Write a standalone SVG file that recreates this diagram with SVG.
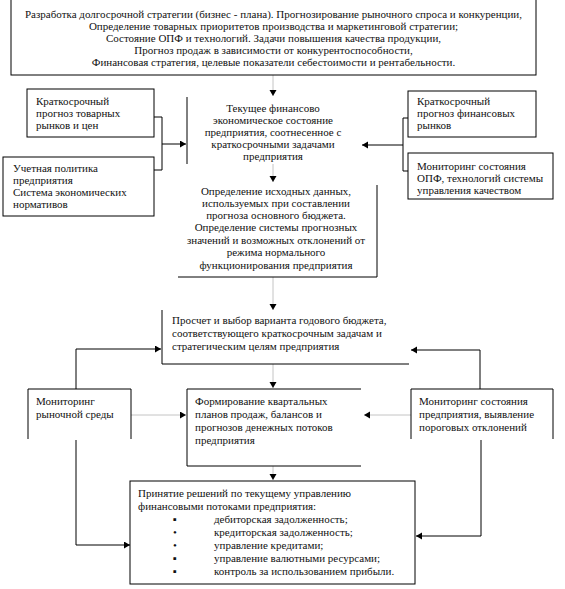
<svg xmlns="http://www.w3.org/2000/svg" width="565" height="589" viewBox="0 0 565 589">
<style>
text{font-family:"Liberation Serif","Times New Roman",serif;font-size:11px;fill:#111}
.c{text-anchor:middle}
.b{fill:none;stroke:#000;stroke-width:1}
.k{fill:none;stroke:#000;stroke-width:1}
.g{fill:none;stroke:#c4c4c4;stroke-width:1}
</style>
<defs>
<marker id="ah" markerUnits="userSpaceOnUse" markerWidth="8" markerHeight="8" refX="6" refY="3.5" orient="auto">
<path d="M0,0 L6,3.5 L0,7 Z" fill="#000"/>
</marker>
</defs>
<rect width="565" height="589" fill="#fff"/>
<g id="connectors">
<line class="g" x1="273" y1="75" x2="273" y2="96" marker-end="url(#ah)"/>
<polyline class="k" points="154,117 162,117 162,170 154,170"/>
<line class="k" x1="162" y1="144" x2="186" y2="144" marker-end="url(#ah)"/>
<polyline class="k" points="408,118 403,118 403,171 408,171"/>
<line class="k" x1="403" y1="145" x2="362" y2="145" marker-end="url(#ah)"/>
<line class="g" x1="273" y1="164" x2="273" y2="182" marker-end="url(#ah)"/>
<line class="g" x1="273" y1="277" x2="273" y2="310" marker-end="url(#ah)"/>
<polyline class="k" points="76,389 76,349 161,349" marker-end="url(#ah)"/>
<polyline class="k" points="480,389 480,350 411,350" marker-end="url(#ah)"/>
<line class="g" x1="273" y1="364" x2="273" y2="388" marker-end="url(#ah)"/>
<line class="g" x1="131" y1="415" x2="186" y2="415" marker-end="url(#ah)"/>
<line class="g" x1="411" y1="415" x2="364" y2="415" marker-end="url(#ah)"/>
<line class="g" x1="273" y1="466" x2="273" y2="480" marker-end="url(#ah)"/>
<polyline class="k" points="76,440 76,545 130,545" marker-end="url(#ah)"/>
<polyline class="k" points="481,440 481,536 416,536" marker-end="url(#ah)"/>
</g>
<g id="strategy">
<rect class="b" x="11" y="-2" width="525" height="77"/>
<text class="c" x="273.5" y="18">Разработка долгосрочной стратегии (бизнес - плана). Прогнозирование рыночного спроса и конкуренции,</text>
<text class="c" x="273.5" y="30">Определение товарных приоритетов производства и маркетинговой стратегии;</text>
<text class="c" x="273.5" y="42">Состояние ОПФ и технологий. Задачи повышения качества продукции,</text>
<text class="c" x="273.5" y="54">Прогноз продаж в зависимости от конкурентоспособности,</text>
<text class="c" x="273.5" y="66">Финансовая стратегия, целевые показатели себестоимости и рентабельности.</text>
</g>
<g id="market-forecast">
<rect class="b" x="27" y="89" width="127" height="48"/>
<text x="36" y="105">Краткосрочный</text>
<text x="36" y="117">прогноз товарных</text>
<text x="36" y="129">рынков и цен</text>
</g>
<g id="accounting">
<rect class="b" x="3" y="157" width="151" height="59"/>
<text x="13" y="172">Учетная политика</text>
<text x="13" y="184">предприятия</text>
<text x="13" y="196">Система экономических</text>
<text x="13" y="208">нормативов</text>
</g>
<g id="current-state">
<line class="b" x1="187" y1="97" x2="187" y2="164"/>
<text class="c" x="273" y="112">Текущее финансово</text>
<text class="c" x="273" y="124">экономическое состояние</text>
<text class="c" x="273" y="136">предприятия, соотнесенное с</text>
<text class="c" x="273" y="148">краткосрочными задачами</text>
<text class="c" x="273" y="160">предприятия</text>
</g>
<g id="fin-forecast">
<rect class="b" x="408" y="91" width="128" height="46"/>
<text x="417" y="105">Краткосрочный</text>
<text x="417" y="117">прогноз финансовых</text>
<text x="417" y="129">рынков</text>
</g>
<g id="opf-monitoring">
<rect class="b" x="408" y="153" width="145" height="46"/>
<text x="417" y="170">Мониторинг состояния</text>
<text x="417" y="182">ОПФ, технологий системы</text>
<text x="417" y="194">управления качеством</text>
</g>
<g id="input-data">
<polyline class="b" points="377,185 377,277 178,277"/>
<text class="c" x="276" y="195">Определение исходных данных,</text>
<text class="c" x="276" y="207">используемых при составлении</text>
<text class="c" x="276" y="219">прогноза основного бюджета.</text>
<text class="c" x="276" y="231">Определение системы прогнозных</text>
<text class="c" x="276" y="244">значений и возможных отклонений от</text>
<text class="c" x="276" y="256">режима нормального</text>
<text class="c" x="276" y="269">функционирования предприятия</text>
</g>
<g id="annual-budget">
<polyline class="b" points="162,310 162,364 409,364"/>
<text x="172" y="324">Просчет и выбор варианта годового бюджета,</text>
<text x="172" y="337">соответствующего краткосрочным задачам и</text>
<text x="172" y="350">стратегическим целям предприятия</text>
</g>
<g id="market-monitoring">
<polyline class="b" points="28,439 28,389 131,389 131,439"/>
<text x="36" y="405">Мониторинг</text>
<text x="36" y="418">рыночной среды</text>
</g>
<g id="quarterly-plans">
<polyline class="b" points="361,389 187,389 187,466 361,466"/>
<text x="195" y="405">Формирование квартальных</text>
<text x="195" y="418">планов продаж, балансов и</text>
<text x="195" y="431">прогнозов денежных потоков</text>
<text x="195" y="444">предприятия</text>
</g>
<g id="company-monitoring">
<polyline class="b" points="411,439 411,389 553,389 553,439"/>
<text x="419" y="405">Мониторинг состояния</text>
<text x="419" y="418">предприятия, выявление</text>
<text x="419" y="431">пороговых отклонений</text>
</g>
<g id="decisions">
<rect class="b" x="130" y="481" width="285" height="103"/>
<text x="138" y="497">Принятие решений по текущему управлению</text>
<text x="138" y="510">финансовыми потоками предприятия:</text>
<text x="173" y="523">▪</text><text x="214" y="523">дебиторская задолженность;</text>
<text x="173" y="536">•</text><text x="214" y="536">кредиторская задолженность;</text>
<text x="173" y="549">•</text><text x="214" y="549">управление кредитами;</text>
<text x="173" y="562">▪</text><text x="214" y="562">управление валютными ресурсами;</text>
<text x="173" y="575">▪</text><text x="214" y="575">контроль за использованием прибыли.</text>
</g>
</svg>
